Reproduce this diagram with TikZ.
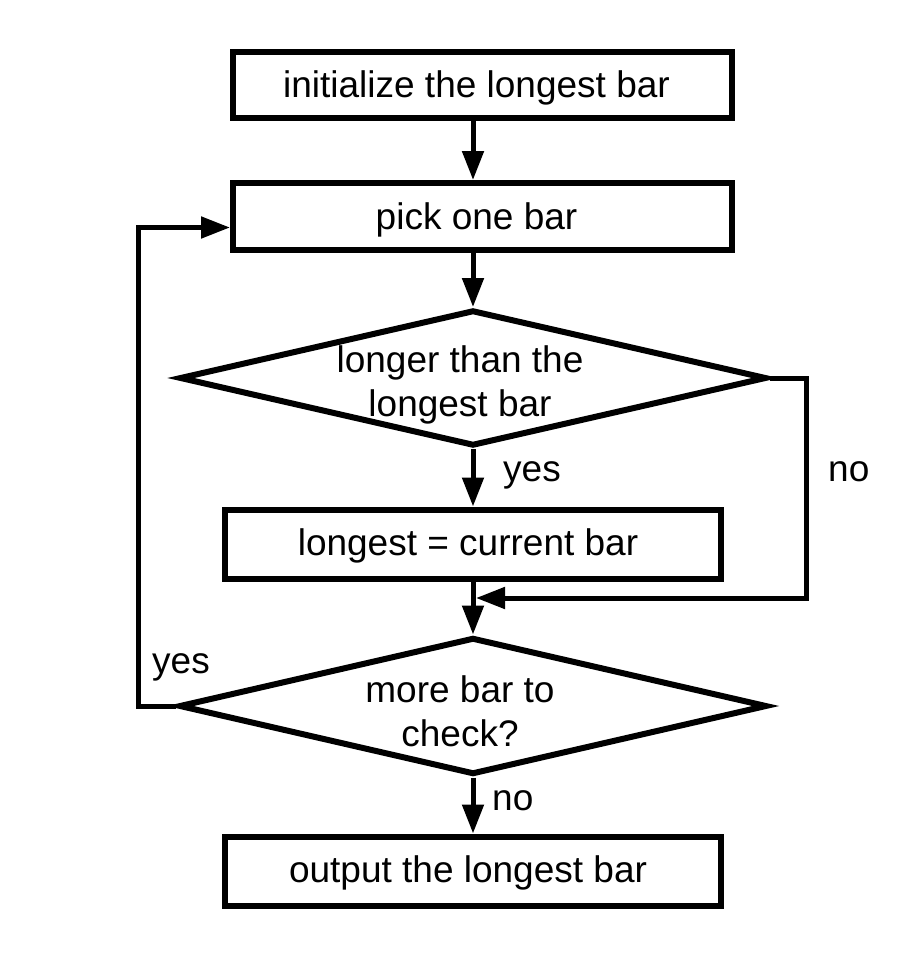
\documentclass[tikz,border=0pt]{standalone}
\usepackage{fontspec}
\setmainfont{Liberation Sans}
\usetikzlibrary{arrows.meta,shapes.geometric}
\begin{document}
\begin{tikzpicture}[x=1pt,y=-1pt,
  box/.style={draw,line width=6pt,rectangle,inner sep=0pt,font=\fontsize{37}{44}\selectfont},
  dia/.style={draw,line width=6pt,diamond,inner sep=0pt},
  txt/.style={align=center,inner sep=0pt,font=\fontsize{37}{44}\selectfont},
  lbl/.style={inner sep=0pt,anchor=base west,font=\fontsize{37}{44}\selectfont},
  arr/.style={line width=5pt,-{Triangle[length=29pt,width=21pt]}}]
\useasboundingbox (0,0) rectangle (914,966);
\node[box,minimum width=499pt,minimum height=66pt] (b1) at (482.5,85) {\raisebox{-3pt}[\height][\depth]{initialize the longest bar}\hspace*{12pt}};
\node[box,minimum width=499pt,minimum height=67pt] (b2) at (482.5,216.5) {\raisebox{-3pt}[\height][\depth]{pick one bar}\hspace*{12pt}};
\node[dia,minimum width=587pt,minimum height=136pt] (d1) at (473,378) {};
\node[txt] (t1) at (460,385) {longer than the\\longest bar};
\node[box,minimum width=496pt,minimum height=69pt] (b3) at (473,544) {\raisebox{-2pt}[\height][\depth]{longest = current bar}\hspace*{10pt}};
\node[dia,minimum width=588pt,minimum height=137pt] (d2) at (473,706) {};
\node[txt] (t2) at (460,711) {more bar to\\check?};
\node[box,minimum width=496pt,minimum height=69pt] (b4) at (473,871) {\raisebox{-2pt}[\height][\depth]{output the longest bar}\hspace*{10pt}};
\coordinate (c1) at (806,598);
\coordinate (m1) at (476,598);
\coordinate (c2) at (138,707);
\draw[arr] (b1.south -| b3.north) -- (b2.north -| b3.north);
\draw[arr] (b2.south -| d1.north) -- (d1.north);
\draw[arr] (d1.south) -- (b3.north);
\draw[arr] (b3.south) -- (d2.north);
\draw[arr] (d2.south) -- (b4.north);
\draw[arr] (d1.east) -| (c1) -- (m1);
\draw[arr] (d2.west) -- (d2.west -| c2) |- ([yshift=-11pt]b2.west);
\node[lbl] (ly1) at (503,481) {yes};
\node[lbl] (ln1) at (828,481) {no};
\node[lbl] (ly2) at (152,673) {yes};
\node[lbl] (ln2) at (492,810) {no};
\end{tikzpicture}
\end{document}
